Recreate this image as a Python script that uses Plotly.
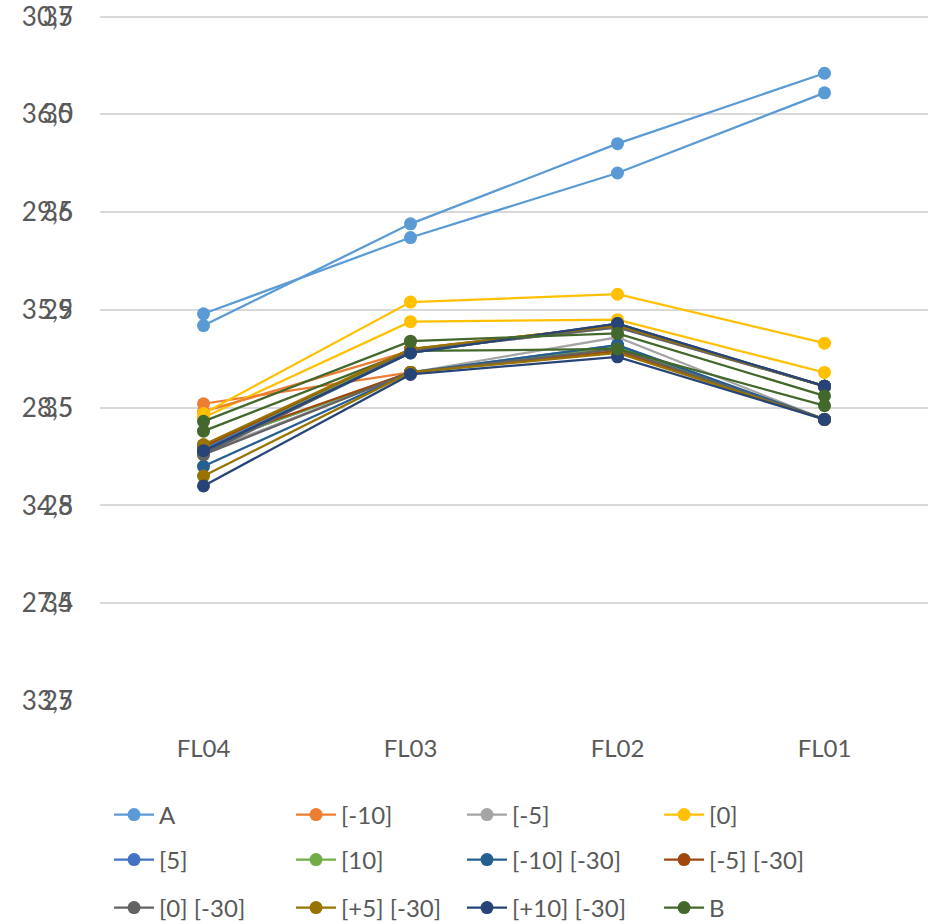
import plotly.graph_objects as go

categories = ["FL04", "FL03", "FL02", "FL01"]
series_names = ["A", "[-10]", "[-5]", "[0]", "[5]", "[10]", "[-10] [-30]", "[-5] [-30]",
                "[0] [-30]", "[+5] [-30]", "[+10] [-30]", "B"]
colors = ["#5B9BD5", "#ED7D31", "#A5A5A5", "#FFC000", "#4472C4", "#70AD47", "#255E91", "#9E480E",
          "#636363", "#997300", "#264478", "#43682B"]

# primary axis values (27 - 30.5)
primary_values = [
    [28.98, 29.37, 29.70, 30.11],   # A
    [28.52, 28.68, 28.81, 28.44],   # [-10]
    [28.27, 28.68, 28.86, 28.44],   # [-5]
    [28.45, 28.94, 28.95, 28.68],   # [0]
    [28.30, 28.68, 28.82, 28.44],   # [5]
    [28.30, 28.68, 28.81, 28.44],   # [10]
    [28.20, 28.68, 28.82, 28.44],   # [-10][-30]
    [28.31, 28.68, 28.79, 28.44],   # [-5][-30]
    [28.26, 28.68, 28.80, 28.44],   # [0][-30]
    [28.15, 28.68, 28.78, 28.44],   # [+5][-30]
    [28.10, 28.67, 28.76, 28.44],   # [+10][-30]
    [28.38, 28.79, 28.80, 28.51],   # B
]
# secondary axis values (33.5 - 37)
secondary_values = [
    [35.42, 35.94, 36.35, 36.71],
    [34.98, 35.29, 35.42, 35.11],
    [34.79, 35.29, 35.41, 35.11],
    [34.97, 35.54, 35.58, 35.33],
    [34.79, 35.29, 35.42, 35.11],
    [34.80, 35.29, 35.42, 35.11],
    [34.77, 35.28, 35.43, 35.11],
    [34.80, 35.30, 35.42, 35.11],
    [34.76, 35.29, 35.41, 35.11],
    [34.81, 35.30, 35.42, 35.11],
    [34.78, 35.28, 35.43, 35.11],
    [34.93, 35.34, 35.38, 35.06],
]

primary_range = [27, 30.508]
secondary_range = [33.5, 37.008]

font_family = "Lato, 'Open Sans', sans-serif"
text_color = "#595959"

# legend grid placement (paper coords)
legend_cols_x = [0.0109, 0.2307, 0.4372, 0.6752]
legend_rows_y = [-0.1662, -0.2318, -0.3017]

fig = go.Figure()
for i, (name, col, vals) in enumerate(zip(series_names, colors, primary_values)):
    lg = "legend" if i == 0 else f"legend{i + 1}"
    fig.add_trace(go.Scatter(x=categories, y=vals, name=name, mode="lines+markers",
                             line=dict(color=col, width=2.25),
                             marker=dict(color=col, size=13), yaxis="y", legend=lg))
for name, col, vals in zip(series_names, colors, secondary_values):
    fig.add_trace(go.Scatter(x=categories, y=vals, name=name, mode="lines+markers",
                             line=dict(color=col, width=2.25),
                             marker=dict(color=col, size=13), yaxis="y2",
                             showlegend=False))

legend_layout = {}
for i in range(len(series_names)):
    key = "legend" if i == 0 else f"legend{i + 1}"
    legend_layout[key] = dict(
        x=legend_cols_x[i % 4], xanchor="left",
        y=legend_rows_y[i // 4], yanchor="middle",
        orientation="h", font=dict(size=24, color=text_color, family=font_family),
        itemwidth=40, bgcolor="rgba(0,0,0,0)")

fig.update_layout(
    width=935, height=924,
    margin=dict(l=100, r=7, t=15, b=223, autoexpand=False),
    paper_bgcolor="white", plot_bgcolor="white",
    separators=",.",
    font=dict(family=font_family, color=text_color, size=20),
    showlegend=True,
    xaxis=dict(type="category", range=[-0.5, 3.5], showgrid=False, showline=False,
               zeroline=False, ticks="", ticklabelstandoff=31, automargin=False,
               tickfont=dict(size=24, color=text_color)),
    yaxis=dict(range=primary_range, dtick=0.5, tick0=27, showgrid=True, gridcolor="#D9D9D9",
               gridwidth=2, zeroline=False, showline=False, ticks="", automargin=False,
               ticklabelstandoff=26, ticklabeloverflow="allow",
               tickfont=dict(size=26, color=text_color)),
    yaxis2=dict(range=secondary_range, dtick=0.5, tick0=33.5, overlaying="y", side="left",
                showgrid=False, zeroline=False, showline=False, ticks="", automargin=False,
                ticklabelstandoff=26, ticklabeloverflow="allow",
                tickfont=dict(size=26, color=text_color)),
    **legend_layout,
)

fig.write_html("out.html", config={"displayModeBar": False},
               post_script="document.body.style.margin='0px';document.body.style.overflow='hidden';")
